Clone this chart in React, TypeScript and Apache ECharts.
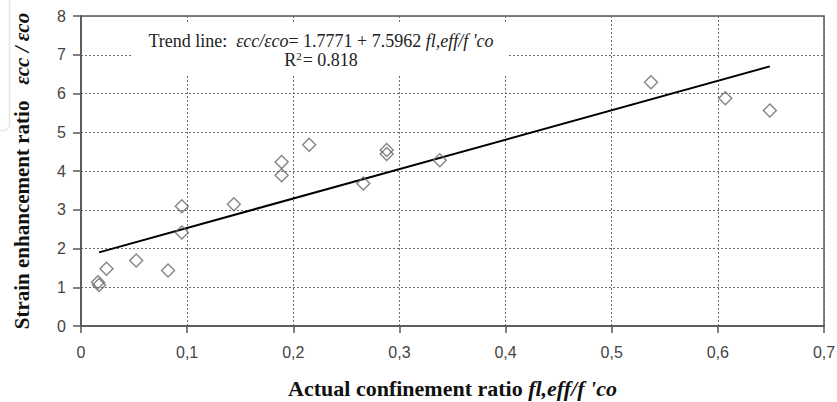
import React, { useEffect, useRef } from "react";
import * as echarts from "echarts";

// Test data: actual confinement ratio (x) vs strain enhancement ratio (y)
const confinementRatio = [0.016, 0.017, 0.024, 0.052, 0.082, 0.095, 0.095, 0.144, 0.189, 0.189, 0.215, 0.266, 0.288, 0.288, 0.338, 0.537, 0.607, 0.649];
const strainRatio = [1.13, 1.06, 1.48, 1.69, 1.43, 3.09, 2.41, 3.14, 4.23, 3.89, 4.68, 3.68, 4.54, 4.44, 4.28, 6.29, 5.88, 5.56];
// Trend line endpoints
const trendX = [0.017, 0.649];
const trendY = [1.9, 6.7];

const xTicks = { min: 0, max: 0.7, interval: 0.1 };
const yTicks = { min: 0, max: 8, interval: 1 };

export default function App() {
  const ref = useRef<HTMLDivElement>(null);
  useEffect(() => {
    if (!ref.current) return;
    const chart = echarts.init(ref.current, null, { renderer: "svg" });
    const serif = "'Liberation Serif', 'Times New Roman', serif";
    const sans = "'Liberation Sans', Arial, sans-serif";
    const gridLine = { show: true, lineStyle: { color: "#6e6e6e", width: 1, type: [2, 2] as any } };
    chart.setOption({
      animation: false,
      backgroundColor: "#ffffff",
      grid: {
        left: 81, right: 13, top: 16, bottom: 76,
        outerBoundsMode: "none",
        containLabel: false,
        show: true, borderColor: "#555", borderWidth: 1.5, backgroundColor: "transparent",
      },
      xAxis: {
        type: "value",
        min: xTicks.min,
        max: xTicks.max,
        interval: xTicks.interval,
        axisLine: { show: true, onZero: false, lineStyle: { color: "#555", width: 1.5 } },
        axisTick: { show: true, length: 7, lineStyle: { color: "#555", width: 1.5 } },
        axisLabel: {
          color: "#444",
          fontFamily: sans,
          fontSize: 16,
          margin: 18,
          formatter: (v: number) => (Math.round(v * 10) / 10).toString().replace(".", ","),
        },
        splitLine: gridLine,
        name: "{a|Actual confinement ratio }{b|fl,eff/f 'co}",
        nameLocation: "middle",
        nameGap: 51,
        nameTextStyle: {
          rich: {
            a: { fontFamily: serif, fontWeight: "bold", fontSize: 22, color: "#111" },
            b: { fontFamily: serif, fontWeight: "bold", fontStyle: "italic", fontSize: 22, color: "#111" },
          },
        },
      },
      yAxis: {
        type: "value",
        min: yTicks.min,
        max: yTicks.max,
        interval: yTicks.interval,
        axisLine: { show: true, onZero: false, lineStyle: { color: "#555", width: 1.5 } },
        axisTick: { show: true, length: 8, lineStyle: { color: "#555", width: 1.5 } },
        axisLabel: { color: "#444", fontFamily: sans, fontSize: 16, margin: 15 },
        splitLine: gridLine,
        name: "{a|Strain enhancement ratio   }{b|εcc / εco}",
        nameLocation: "middle",
        nameGap: 49,
        nameTextStyle: {
          rich: {
            a: { fontFamily: serif, fontWeight: "bold", fontSize: 21, color: "#111" },
            b: { fontFamily: serif, fontWeight: "bold", fontStyle: "italic", fontSize: 21, color: "#111" },
          },
        },
      },
      graphic: [
        {
          type: "rect",
          left: -12,
          top: -10,
          shape: { width: 19, height: 138, r: 6 },
          style: { fill: "none", stroke: "#e6e6e6", lineWidth: 1.5 },
          z: 1,
        },
        {
          type: "rect",
          shape: { x: 133, y: 23, width: 375, height: 51 },
          style: { fill: "#ffffff" },
          z: 5,
        },
        {
          type: "text",
          x: 321,
          y: 50,
          z: 6,
          style: {
            text: "{r|Trend line:  }{i|εcc/εco}{r|= 1.7771 + 7.5962 }{i|fl,eff/f 'co}\n{r|R}{s|2}{r|= 0.818}",
            align: "center",
            verticalAlign: "middle",
            fontFamily: serif,
            fontSize: 18,
            fill: "#222",
            rich: {
              r: { fontFamily: serif, fontSize: 18, lineHeight: 19, fill: "#222" },
              i: { fontFamily: serif, fontStyle: "italic", fontSize: 18, lineHeight: 19, fill: "#222" },
              s: { fontFamily: serif, fontSize: 11, lineHeight: 19, verticalAlign: "top", padding: [0, 1, 6, 0], fill: "#222" },
            },
          },
        },
      ],
      series: [
        {
          type: "line",
          data: trendX.map((x, i) => [x, trendY[i]]),
          symbol: "none",
          lineStyle: { color: "#000", width: 2 },
          z: 3,
        },
        {
          type: "scatter",
          data: confinementRatio.map((x, i) => [x, strainRatio[i]]),
          symbol: "diamond",
          symbolSize: 13,
          itemStyle: { color: "rgba(255,255,255,0)", borderColor: "#666", borderWidth: 1.4 },
          z: 4,
        },
      ],
    });
    return () => chart.dispose();
  }, []);
  return <div ref={ref} style={{ position: "fixed", left: 0, top: 0, width: 837, height: 402, background: "#fff" }} />;
}
